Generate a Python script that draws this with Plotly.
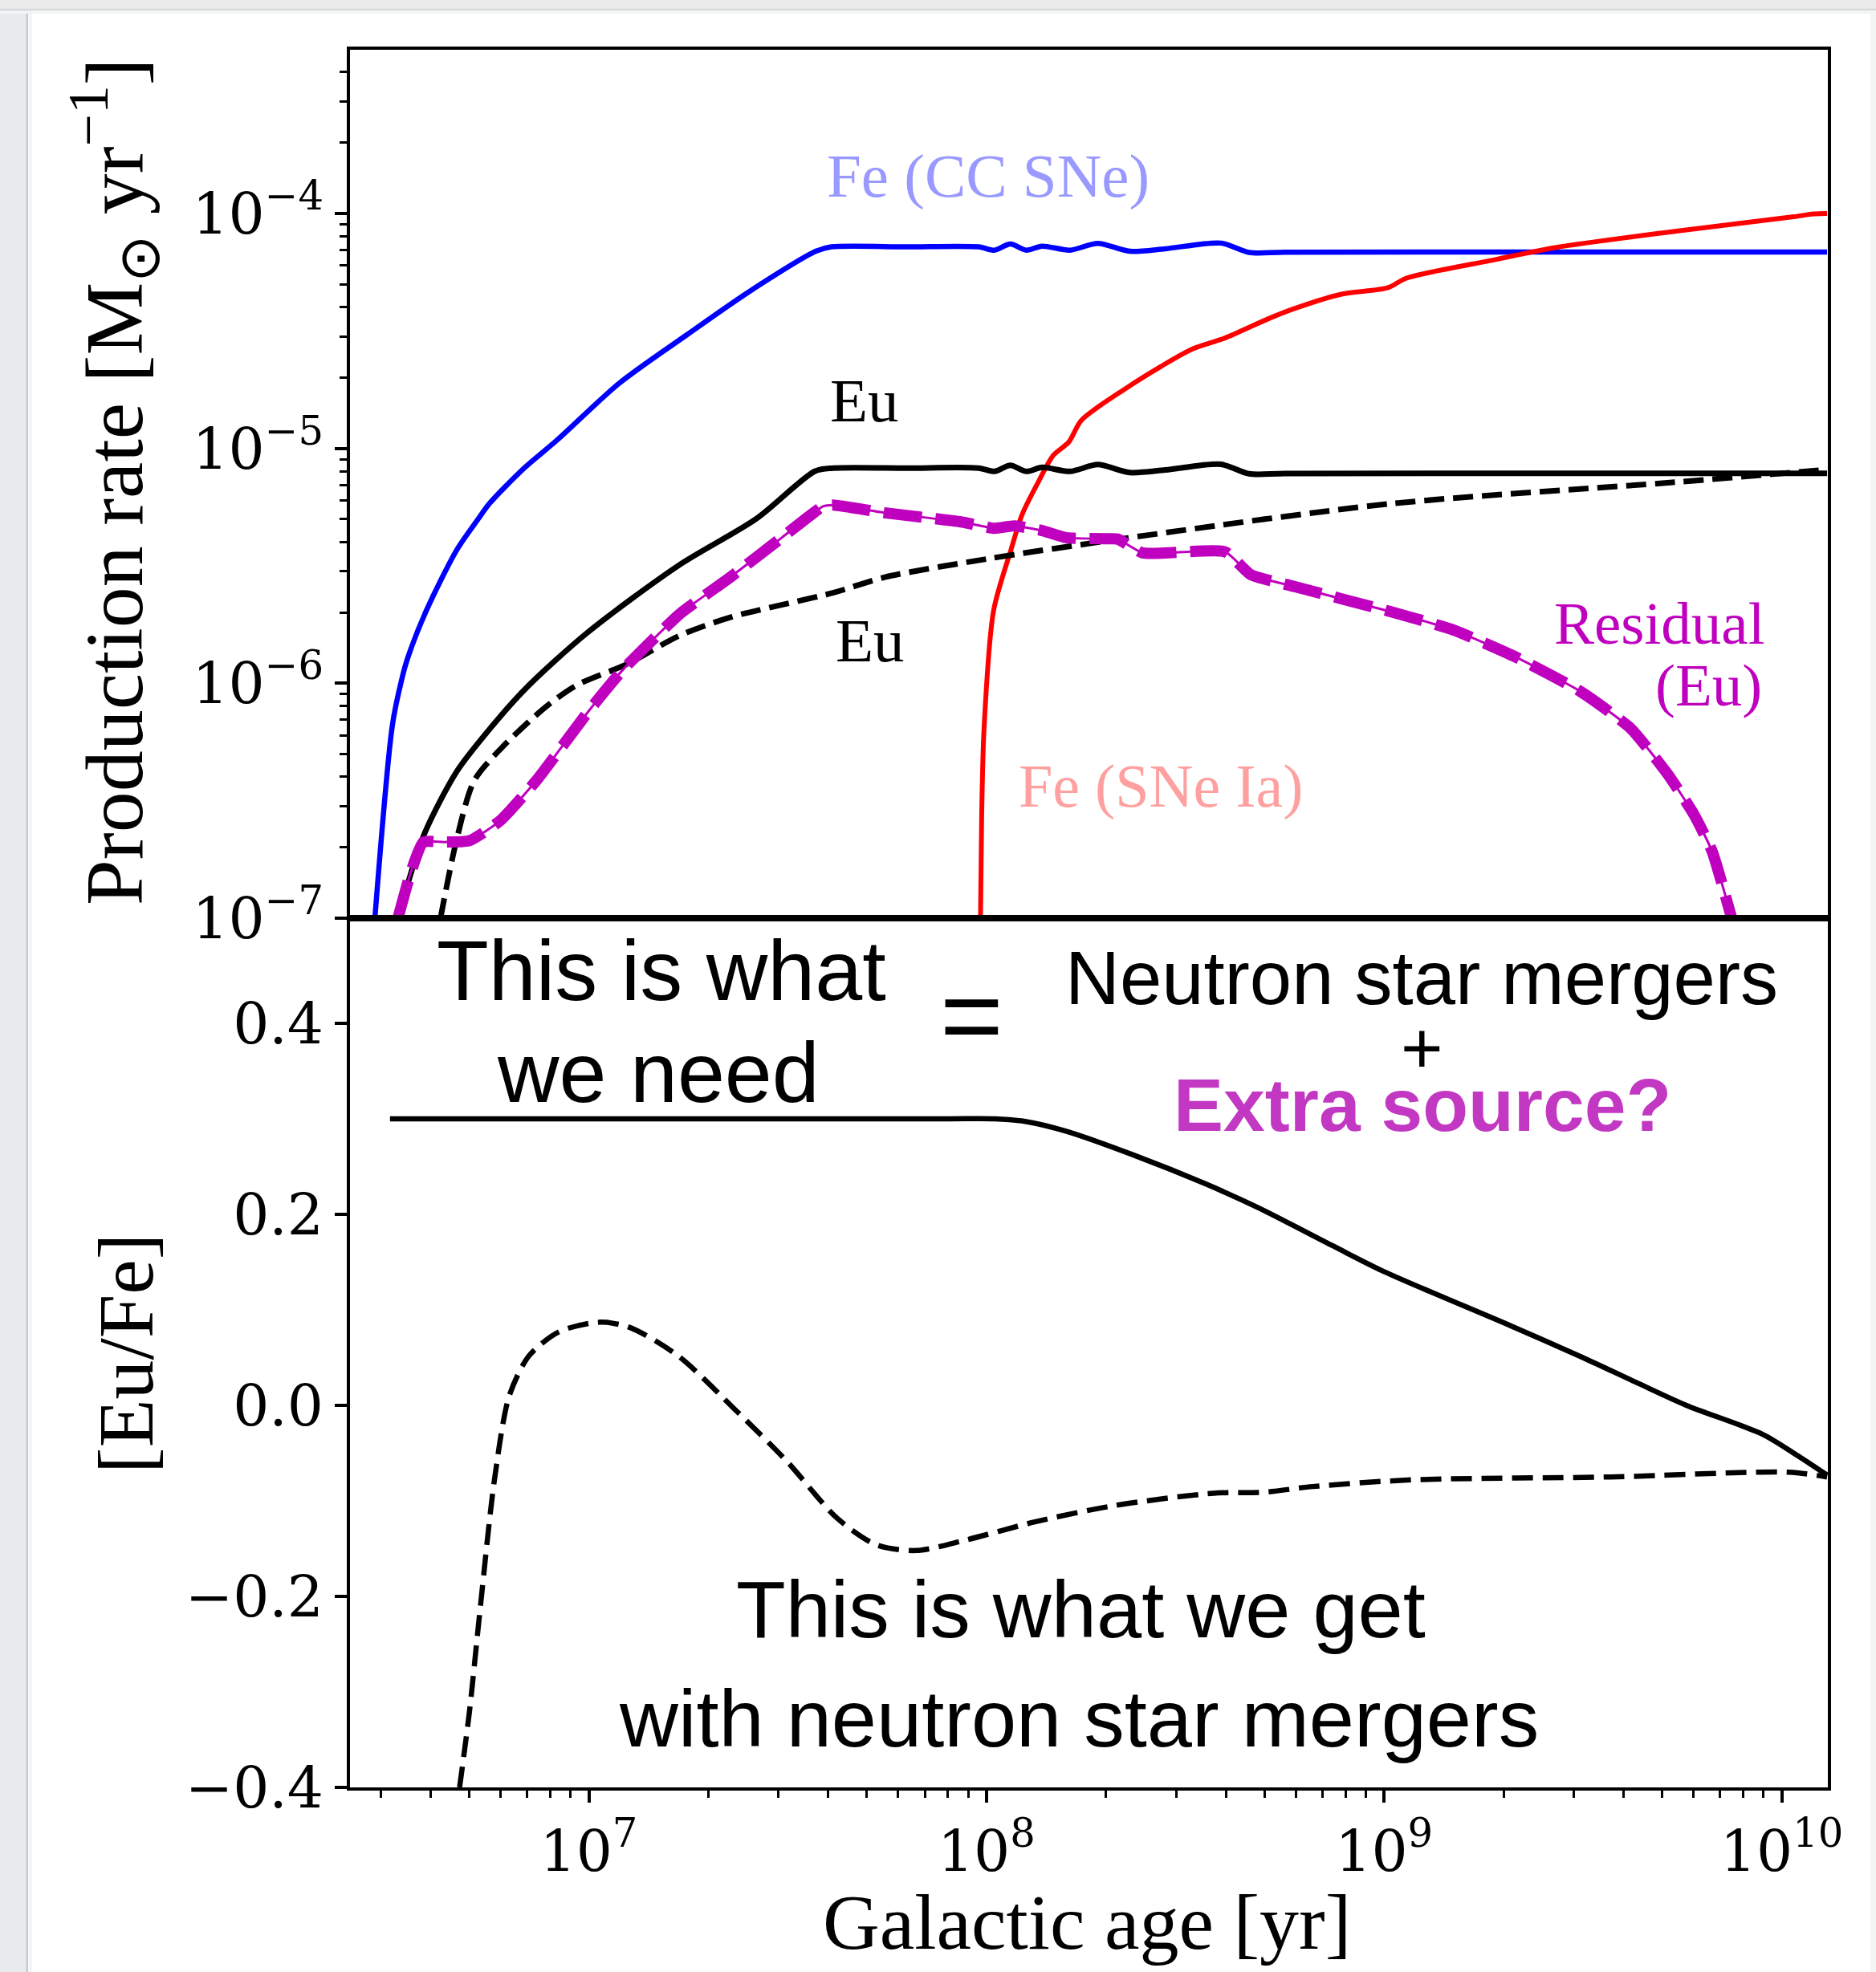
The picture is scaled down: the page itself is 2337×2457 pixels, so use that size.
import numpy as np
import plotly.graph_objects as go
from plotly.subplots import make_subplots

# ---------------- top panel: production rates (log10 age [yr], log10 rate [Msun/yr])
fe_cc_log_age = [6.462, 6.506, 6.530, 6.545, 6.591, 6.668, 6.722, 6.750, 6.836, 6.920,
                 7.077, 7.247, 7.403, 7.572, 7.610, 7.800, 7.980, 8.020, 8.060, 8.100,
                 8.140, 8.210, 8.280, 8.360, 8.450, 8.590, 8.660, 8.750, 9.500, 10.114]
fe_cc_log_rate = [-7.000, -6.178, -5.980, -5.890, -5.692, -5.432, -5.300, -5.235, -5.086, -4.965,
                  -4.722, -4.516, -4.333, -4.160, -4.142, -4.142, -4.142, -4.156, -4.130, -4.156,
                  -4.139, -4.156, -4.127, -4.161, -4.150, -4.126, -4.166, -4.165, -4.164, -4.164]

eu_log_age = [6.520, 6.584, 6.668, 6.752, 6.842, 6.996, 7.227, 7.421, 7.569, 7.614,
              7.800, 7.980, 8.020, 8.060, 8.100, 8.140, 8.210, 8.280, 8.360, 8.450,
              8.590, 8.660, 8.750, 9.500, 10.114]
eu_log_rate = [-7.000, -6.651, -6.375, -6.192, -6.021, -5.785, -5.497, -5.300, -5.097, -5.084,
               -5.084, -5.084, -5.098, -5.072, -5.098, -5.081, -5.098, -5.069, -5.103, -5.092,
               -5.068, -5.108, -5.107, -5.106, -5.106]

eu_nsm_log_age = [6.627, 6.668, 6.712, 6.783, 6.893, 6.971, 7.099, 7.227, 7.356, 7.614,
                  7.743, 8.000, 8.340, 9.014, 9.731, 10.114]
eu_nsm_log_rate = [-7.000, -6.663, -6.414, -6.271, -6.099, -6.007, -5.916, -5.798, -5.719, -5.615,
                   -5.549, -5.471, -5.385, -5.236, -5.144, -5.090]

fe_ia_log_age = [7.985, 7.988, 7.994, 8.018, 8.062, 8.090, 8.130, 8.168, 8.207, 8.239,
                 8.352, 8.437, 8.515, 8.600, 8.709, 8.769, 8.889, 9.010, 9.055, 9.280,
                 9.430, 9.731, 10.030, 10.080, 10.114]
fe_ia_log_rate = [-7.000, -6.560, -6.190, -5.690, -5.430, -5.280, -5.144, -5.030, -4.973, -4.880,
                  -4.743, -4.653, -4.579, -4.530, -4.448, -4.408, -4.345, -4.316, -4.276, -4.196,
                  -4.145, -4.076, -4.014, -4.002, -4.000]

residual_log_age = [6.520, 6.552, 6.584, 6.636, 6.700, 6.777, 6.868, 6.996, 7.086, 7.228,
                    7.356, 7.486, 7.589, 7.614, 7.743, 7.936, 8.020, 8.070, 8.140, 8.200,
                    8.300, 8.330, 8.393, 8.600, 8.664, 8.776, 9.014, 9.174, 9.333, 9.493,
                    9.620, 9.714, 9.779, 9.825, 9.874]
residual_log_rate = [-7.000, -6.807, -6.676, -6.676, -6.670, -6.585, -6.414, -6.126, -5.942, -5.706,
                     -5.548, -5.379, -5.247, -5.241, -5.274, -5.313, -5.340, -5.330, -5.350, -5.380,
                     -5.385, -5.386, -5.445, -5.440, -5.537, -5.589, -5.694, -5.773, -5.890, -6.034,
                     -6.192, -6.389, -6.558, -6.716, -7.000]

# ---------------- bottom panel: [Eu/Fe] (log10 age [yr])
needed_log_age = [6.500, 7.900, 8.020, 8.100, 8.200, 8.370, 8.550, 8.683, 8.871, 9.000,
                  9.320, 9.500, 9.634, 9.760, 9.950, 10.030, 10.114]
needed_eufe = [0.300, 0.300, 0.300, 0.297, 0.287, 0.262, 0.232, 0.207, 0.167, 0.140,
               0.083, 0.050, 0.024, 0.000, -0.030, -0.050, -0.073]

nsm_log_age = [6.675, 6.700, 6.726, 6.763, 6.800, 6.850, 6.925, 7.025, 7.100, 7.224,
               7.374, 7.499, 7.624, 7.723, 7.823, 7.948, 8.122, 8.321, 8.571, 8.696,
               8.821, 9.070, 9.569, 10.017, 10.114]
nsm_eufe = [-0.400, -0.320, -0.216, -0.077, 0.010, 0.052, 0.077, 0.087, 0.082, 0.052,
            -0.007, -0.059, -0.118, -0.146, -0.152, -0.141, -0.122, -0.105, -0.092, -0.091,
            -0.085, -0.078, -0.075, -0.070, -0.075]

# axis ticks
x_major = [1e7, 1e8, 1e9, 1e10]
x_major_text = ["10<sup>7</sup>", "10<sup>8</sup>", "10<sup>9</sup>", "10<sup>10</sup>"]
y_top_major = [1e-7, 1e-6, 1e-5, 1e-4]
y_top_major_text = ["10<sup>−7</sup>", "10<sup>−6</sup>", "10<sup>−5</sup>", "10<sup>−4</sup>"]
y_bot_major = [-0.4, -0.2, 0.0, 0.2, 0.4]
y_bot_major_text = ["−0.4", "−0.2", "0.0", "0.2", "0.4"]


def minor_log(lo_exp, hi_exp):
    vals = []
    for e in range(lo_exp, hi_exp + 1):
        for m in range(2, 10):
            vals.append(m * 10.0 ** e)
    return vals


def tens(a):
    return list(10.0 ** np.asarray(a))


# ---------------- figure geometry (pixels)
W, H = 2337, 2457
L, R, T, B = 436, 2277, 62, 2227
MID = 1144


def px_x(p):
    return (p - L) / (R - L)


def px_y(p):
    return (B - p) / (B - T)


fig = make_subplots(rows=2, cols=1, shared_xaxes=True, vertical_spacing=0,
                    row_heights=[MID - T, B - MID])

MAG = "#bf00bf"


def curve(x, y, row, color, width, dash=None, smooth=0.8):
    line = dict(color=color, width=width, shape="spline", smoothing=smooth)
    if dash:
        line["dash"] = dash
    fig.add_trace(go.Scatter(x=x, y=y, mode="lines", line=line, hoverinfo="skip"),
                  row=row, col=1)


curve(tens(fe_cc_log_age), tens(fe_cc_log_rate), 1, "#0000ff", 6.5)
curve(tens(fe_ia_log_age), tens(fe_ia_log_rate), 1, "#ff0000", 6)
curve(tens(eu_log_age), tens(eu_log_rate), 1, "black", 7)
curve(tens(eu_nsm_log_age), tens(eu_nsm_log_rate), 1, "black", 7, dash="25px,11px")
curve(tens(residual_log_age), tens(residual_log_rate), 1, MAG, 3, smooth=0.5)
curve(tens(residual_log_age), tens(residual_log_rate), 1, MAG, 14, dash="48px,17px", smooth=0.5)

curve(tens(needed_log_age), needed_eufe, 2, "black", 6.5)
curve(tens(nsm_log_age), nsm_eufe, 2, "black", 6.5, dash="26px,12px")

TICKFONT = dict(family="DejaVu Serif", size=71, color="black")
SERIF = "Liberation Serif"
SANS = "Liberation Sans"
x_range = [6.3994, 10.1159]

common_x = dict(type="log", range=x_range, showgrid=False, zeroline=False,
                showline=True, linecolor="black", linewidth=3.5, mirror=True)
fig.update_xaxes(**common_x, ticks="", showticklabels=False, row=1, col=1)
fig.update_xaxes(**common_x, ticks="outside", ticklen=15, tickwidth=3.5, tickcolor="black",
                 tickmode="array", tickvals=x_major, ticktext=x_major_text,
                 tickfont=TICKFONT,
                 minor=dict(tickmode="array", tickvals=minor_log(6, 9), ticks="outside",
                            ticklen=9, tickwidth=2.5, tickcolor="black", showgrid=False),
                 row=2, col=1)
fig.update_yaxes(type="log", range=[-7, -3.303], showgrid=False, zeroline=False,
                 showline=True, linecolor="black", linewidth=3.5, mirror=True,
                 ticks="outside", ticklen=15, tickwidth=3.5, tickcolor="black",
                 tickmode="array", tickvals=y_top_major, ticktext=y_top_major_text,
                 tickfont=TICKFONT,
                 minor=dict(tickmode="array", tickvals=minor_log(-7, -4), ticks="outside",
                            ticklen=9, tickwidth=2.5, tickcolor="black", showgrid=False),
                 row=1, col=1)
fig.update_yaxes(range=[-0.4, 0.51], showgrid=False, zeroline=False,
                 showline=True, linecolor="black", linewidth=3.5, mirror=True,
                 ticks="outside", ticklen=15, tickwidth=3.5, tickcolor="black",
                 tickmode="array", tickvals=y_bot_major, ticktext=y_bot_major_text,
                 tickfont=TICKFONT, row=2, col=1)


def note(text, x, y, size, color="black", family=SERIF, xanchor="center", angle=0):
    fig.add_annotation(text=text, x=px_x(x), y=px_y(y), xref="paper", yref="paper",
                       xanchor=xanchor, yanchor="middle", showarrow=False, textangle=angle,
                       font=dict(family=family, size=size, color=color))


# axis titles
note("Production rate [M<sub>⊙</sub> yr<sup>−1</sup>]", 141, 600, 102, angle=-90)
note("[Eu/Fe]", 157, 1687, 98, angle=-90)
note("Galactic age [yr]", 1354, 2395, 98)

# curve labels
note("Fe (CC SNe)", 1231, 219, 77, color="#9999ff")
note("Eu", 1077, 499, 77)
note("Eu", 1084, 798, 77)
note("Residual", 2200, 776, 75, color=MAG, xanchor="right")
note("(Eu)", 2197, 854, 75, color=MAG, xanchor="right")
note("Fe (SNe Ia)", 1446, 979, 76, color="#ffa0a0")

# slide annotations
note("This is what", 824, 1209, 106, family=SANS)
note("we need", 820, 1336, 106, family=SANS)
note("=", 1210, 1266, 135, family=SANS)
note("Neutron star mergers", 1771, 1218, 94, family=SANS)
note("+", 1771, 1306, 90, family=SANS)
note("<b>Extra source?</b>", 1772, 1377, 93, color="#c238c2", family=SANS)
note("This is what we get", 1346, 2005, 101, family=SANS)
note("with neutron star mergers", 1344, 2141, 101, family=SANS)

# slide frame around the figure
shapes = [
    dict(type="rect", x0=px_x(0), x1=px_x(33), y0=px_y(0), y1=px_y(H),
         fillcolor="#e7ebee", line=dict(width=0)),
    dict(type="line", x0=px_x(34), x1=px_x(34), y0=px_y(0), y1=px_y(H),
         line=dict(color="#c8ccd0", width=3)),
    dict(type="rect", x0=px_x(35), x1=px_x(40), y0=px_y(0), y1=px_y(H),
         fillcolor="#f3f5f6", line=dict(width=0)),
    dict(type="rect", x0=px_x(0), x1=px_x(W), y0=px_y(0), y1=px_y(11),
         fillcolor="#ececec", line=dict(width=0)),
    dict(type="line", x0=px_x(0), x1=px_x(W), y0=px_y(12), y1=px_y(12),
         line=dict(color="#d6d9da", width=2.5)),
    dict(type="rect", x0=px_x(0), x1=px_x(W), y0=px_y(13.5), y1=px_y(17),
         fillcolor="#f3f5f5", line=dict(width=0)),
    dict(type="rect", x0=px_x(2330), x1=px_x(W), y0=px_y(13), y1=px_y(H),
         fillcolor="#f3f5f5", line=dict(width=0)),
]
for s in shapes:
    s.update(xref="paper", yref="paper", layer="below")
    fig.add_shape(**s)

fig.update_layout(width=W, height=H, showlegend=False,
                  margin=dict(l=L, r=W - R, t=T, b=H - B, pad=0),
                  paper_bgcolor="white", plot_bgcolor="white")

fig.write_html("out.html")
